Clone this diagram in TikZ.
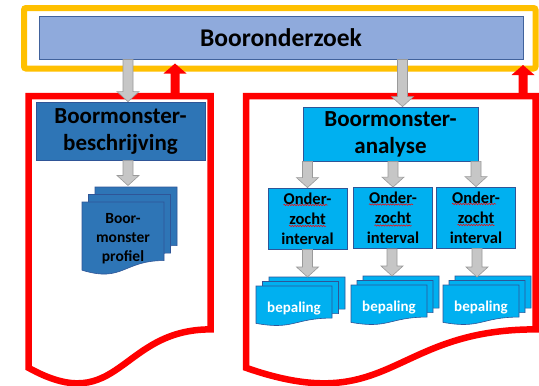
\documentclass[tikz,border=0pt]{standalone}
\usepackage{fontspec}
\setmainfont{Carlito}
\usetikzlibrary{calc,decorations.pathmorphing}

\definecolor{orangeF}{HTML}{FFC000}
\definecolor{titleF}{HTML}{8FAADC}
\definecolor{titleD}{HTML}{41629C}
\definecolor{darkB}{HTML}{2E75B6}
\definecolor{darkBD}{HTML}{2F5597}
\definecolor{cyanB}{HTML}{00B0F0}
\definecolor{grayF}{HTML}{C6C6C6}
\definecolor{grayD}{HTML}{9A9A9A}
\definecolor{redF}{HTML}{FF0000}

\newcommand\docsheet[6]{%
  \pgfmathsetmacro\dsR{#2+#4}%
  \pgfmathsetmacro\dsM{#2+#4/2}%
  \pgfmathsetmacro\dsA{#3+0.802*#5}%
  \pgfmathsetmacro\dsB{#3+1.1075*#5}%
  \pgfmathsetmacro\dsC{#3+0.934*#5}%
  \path[#1] (#2,#3) -- (\dsR,#3) -- (\dsR,\dsA) .. controls (\dsM,\dsA) and (\dsM,\dsB) .. (#2,\dsC) -- cycle;
  \coordinate (#6) at (\dsM,#3);}

\newcommand\downblk[3]{\path[#1] ($(#2)+(-5,0)$) -- ($(#3)+(-5,-10)$) -- ($(#3)+(-11,-10)$) -- (#3) -- ($(#3)+(11,-10)$) -- ($(#3)+(5,-10)$) -- ($(#2)+(5,0)$) -- cycle;}
\newcommand\upblk[3]{\path[#1] ($(#2)+(-4.5,0)$) -- ($(#3)+(-4.5,10)$) -- ($(#3)+(-11.5,10)$) -- (#3) -- ($(#3)+(11.5,10)$) -- ($(#3)+(4.5,10)$) -- ($(#2)+(4.5,0)$) -- cycle;}

\tikzset{
  outerframe/.style={draw=orangeF, line width=6pt, rounded corners=2pt, outer sep=0pt, minimum width=511.5, minimum height=60.5},
  titlebox/.style={draw=titleD, fill=titleF, line width=0.9pt, font=\fontsize{25.5}{30}\selectfont\bfseries, minimum width=484, minimum height=43, inner sep=0pt},
  redframe/.style={draw=redF, line width=6.5pt, line join=miter},
  redarrow/.style={fill=redF},
  grayarrow/.style={fill=grayF, draw=grayD, line width=0.6pt},
  bigbox/.style={line width=0.8pt, draw=darkBD, font=\fontsize{23}{27}\selectfont\bfseries, align=center, inner sep=0pt},
  ivbox/.style={line width=0.8pt, draw=darkBD, fill=cyanB, font=\fontsize{16.5}{20}\selectfont\bfseries, align=center, inner sep=0pt, minimum width=79, minimum height=61},
  darksheet/.style={fill=darkB, draw=darkBD, line width=0.6pt},
  cyansheet/.style={fill=cyanB, draw=darkBD, line width=0.6pt},
  proftext/.style={font=\fontsize{15.5}{19}\selectfont\bfseries, align=center, inner sep=0pt},
  beptext/.style={font=\fontsize{15}{18}\selectfont\bfseries, text=white, inner sep=0pt, anchor=base},
  spell/.style={draw=redF, line width=0.5pt, decorate, decoration={snake, amplitude=0.7pt, segment length=2.6pt}}
}

\begin{document}
\begin{tikzpicture}[x=1pt, y=-1pt]
\useasboundingbox (0,0) rectangle (539,386);
\fill[white] (0,0) rectangle (539,386);

% outer orange frame and title
\node[outerframe] (outer) at (279.75,38.25) {};
\node[titlebox] (title) at (281,37.5) {Booronderzoek};

% red document frames
\docsheet{redframe}{28.5}{96}{182}{291}{lframe}
\docsheet{redframe}{246}{96}{289.5}{291}{rframe}

% red upward arrows
\coordinate (r1s) at (175,96);
\coordinate (r2s) at (523,96);
\coordinate (r1t) at ($(r1s |- outer.south)+(0,-5)$);
\coordinate (r2t) at ($(r2s |- outer.south)+(0,-3.5)$);
\upblk{redarrow}{r1s}{r1t}
\upblk{redarrow}{r2s}{r2t}

% main boxes
\node[bigbox, fill=darkB, minimum width=169, minimum height=58] (beschr) at (120.5,131) {Boormonster-\\beschrijving};
\node[bigbox, fill=cyanB, minimum width=175, minimum height=54] (ana) at (390.5,134) {Boormonster-\\analyse};

% gray arrows from title
\coordinate (g1t) at ($(beschr.north)+(7.5,0)$);
\coordinate (g1s) at (g1t |- title.south);
\downblk{grayarrow}{g1s}{g1t}
\coordinate (g2t) at ($(ana.north)+(12,0)$);
\coordinate (g2s) at (g2t |- title.south);
\downblk{grayarrow}{g2s}{g2t}

% interval boxes
\node[ivbox] (iv1) at (307.5,218.5) {Onder-\\zocht\\interval};
\node[ivbox] (iv2) at (393,218) {Onder-\\zocht\\interval};
\node[ivbox] (iv3) at (476,217.5) {Onder-\\zocht\\interval};
\foreach \b in {iv1,iv2,iv3}{
  \draw[spell] ($(\b.center)+(-24,-13.5)$) -- ++(44,0);
  \draw[spell] ($(\b.center)+(-18.5,7.5)$) -- ++(37,0);
}

% arrows analyse -> intervals
\foreach \b in {iv1,iv2,iv3}{
  \coordinate (as) at (\b.north |- ana.south);
  \downblk{grayarrow}{as}{\b.north}
}

% profile stack
\docsheet{darksheet}{95}{187}{82}{73}{profback}
\docsheet{darksheet}{88.5}{194.5}{82}{73}{profmid}
\docsheet{darksheet}{82}{202}{82}{73}{proffront}
\node[proftext] (prof) at (123,238.5) {Boor-\\monster\\profiel};

% bepaling stacks
\docsheet{cyansheet}{269}{277}{76}{40}{bep1back}
\docsheet{cyansheet}{262.5}{281.5}{76}{40}{bep1mid}
\docsheet{cyansheet}{256}{286}{76}{40}{bep1front}
\docsheet{cyansheet}{363}{276}{76}{40}{bep2back}
\docsheet{cyansheet}{357}{280.5}{76}{40}{bep2mid}
\docsheet{cyansheet}{351}{285}{76}{40}{bep2front}
\docsheet{cyansheet}{455}{276}{76}{40}{bep3back}
\docsheet{cyansheet}{449}{280.5}{76}{40}{bep3mid}
\docsheet{cyansheet}{443}{285}{76}{40}{bep3front}
\node[beptext] (bep1) at (294,312) {bepaling};
\node[beptext] (bep2) at (389,311.5) {bepaling};
\node[beptext] (bep3) at (481,311) {bepaling};

% arrows beschr -> profile, intervals -> bepaling
\coordinate (g3s) at ($(beschr.south)+(7.5,0)$);
\coordinate (g3t) at ($(g3s |- profback)+(0,-1.5)$);
\downblk{grayarrow}{g3s}{g3t}
\coordinate (h1t) at (iv1.south |- bep1back);
\downblk{grayarrow}{iv1.south}{h1t}
\coordinate (h2t) at ($(iv2.south |- bep2back)+(-1,0)$);
\coordinate (h2s) at ($(iv2.south)+(-1,0)$);
\downblk{grayarrow}{h2s}{h2t}
\coordinate (h3t) at ($(iv3.south |- bep3back)+(1,1)$);
\coordinate (h3s) at ($(iv3.south)+(1,0)$);
\downblk{grayarrow}{h3s}{h3t}
\end{tikzpicture}
\end{document}
